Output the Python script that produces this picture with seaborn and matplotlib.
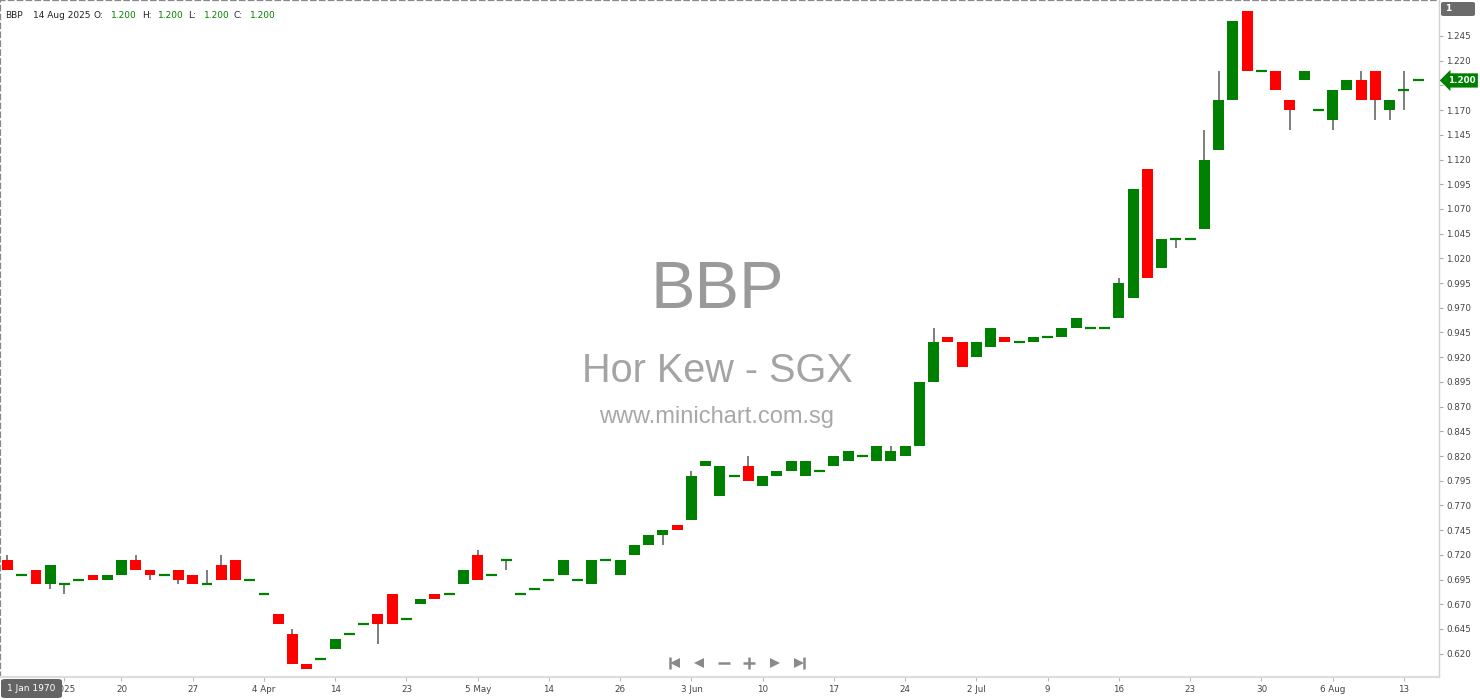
import matplotlib
matplotlib.use("Agg")
import matplotlib.pyplot as plt
from matplotlib.lines import Line2D
from matplotlib.patches import FancyBboxPatch
import numpy as np
import pandas as pd
import seaborn as sns

# daily OHLC, 10 Mar 2025 .. 14 Aug 2025 (one entry per trading day)
opens = [0.715, 0.700, 0.705, 0.690, 0.690, 0.695, 0.700, 0.695, 0.700, 0.715,
         0.705, 0.700, 0.705, 0.700, 0.690, 0.710, 0.715, 0.695, 0.680, 0.660,
         0.640, 0.610, 0.615, 0.625, 0.640, 0.650, 0.660, 0.680, 0.655, 0.670,
         0.680, 0.680, 0.690, 0.720, 0.700, 0.715, 0.680, 0.685, 0.695, 0.700,
         0.695, 0.690, 0.715, 0.700, 0.720, 0.730, 0.740, 0.750, 0.755, 0.810,
         0.780, 0.800, 0.810, 0.790, 0.800, 0.805, 0.800, 0.805, 0.810, 0.815,
         0.820, 0.815, 0.815, 0.820, 0.830, 0.895, 0.940, 0.935, 0.920, 0.930,
         0.940, 0.935, 0.935, 0.940, 0.940, 0.950, 0.950, 0.950, 0.960, 0.980,
         1.110, 1.010, 1.040, 1.040, 1.050, 1.130, 1.180, 1.270, 1.210, 1.210,
         1.180, 1.200, 1.170, 1.160, 1.190, 1.200, 1.210, 1.170, 1.190, 1.200]
highs = [0.720, 0.700, 0.705, 0.710, 0.690, 0.695, 0.700, 0.700, 0.715, 0.720,
         0.705, 0.700, 0.705, 0.700, 0.705, 0.720, 0.715, 0.695, 0.680, 0.660,
         0.645, 0.610, 0.615, 0.635, 0.640, 0.650, 0.660, 0.680, 0.655, 0.675,
         0.680, 0.680, 0.705, 0.725, 0.700, 0.715, 0.680, 0.685, 0.695, 0.715,
         0.695, 0.715, 0.715, 0.715, 0.730, 0.740, 0.745, 0.750, 0.805, 0.815,
         0.810, 0.800, 0.820, 0.800, 0.805, 0.815, 0.815, 0.805, 0.820, 0.825,
         0.820, 0.830, 0.830, 0.830, 0.895, 0.950, 0.940, 0.935, 0.935, 0.950,
         0.940, 0.935, 0.940, 0.940, 0.950, 0.960, 0.950, 0.950, 1.000, 1.090,
         1.110, 1.040, 1.040, 1.040, 1.150, 1.210, 1.260, 1.270, 1.210, 1.210,
         1.180, 1.210, 1.170, 1.190, 1.200, 1.210, 1.210, 1.180, 1.210, 1.200]
lows = [0.705, 0.700, 0.690, 0.685, 0.680, 0.695, 0.695, 0.695, 0.700, 0.705,
        0.695, 0.700, 0.690, 0.690, 0.690, 0.695, 0.695, 0.695, 0.680, 0.650,
        0.610, 0.605, 0.615, 0.625, 0.640, 0.650, 0.630, 0.650, 0.655, 0.670,
        0.675, 0.680, 0.690, 0.695, 0.700, 0.705, 0.680, 0.685, 0.695, 0.700,
        0.695, 0.690, 0.715, 0.700, 0.720, 0.730, 0.730, 0.745, 0.755, 0.810,
        0.780, 0.800, 0.795, 0.790, 0.800, 0.805, 0.800, 0.805, 0.810, 0.815,
        0.820, 0.815, 0.815, 0.820, 0.830, 0.895, 0.935, 0.910, 0.920, 0.930,
        0.935, 0.935, 0.935, 0.940, 0.940, 0.950, 0.950, 0.950, 0.960, 0.980,
        1.000, 1.010, 1.030, 1.040, 1.050, 1.130, 1.180, 1.210, 1.210, 1.190,
        1.150, 1.200, 1.170, 1.150, 1.190, 1.180, 1.160, 1.160, 1.170, 1.200]
closes = [0.705, 0.700, 0.690, 0.710, 0.690, 0.695, 0.695, 0.700, 0.715, 0.705,
          0.700, 0.700, 0.695, 0.690, 0.690, 0.695, 0.695, 0.695, 0.680, 0.650,
          0.610, 0.605, 0.615, 0.635, 0.640, 0.650, 0.650, 0.650, 0.655, 0.675,
          0.675, 0.680, 0.705, 0.695, 0.700, 0.715, 0.680, 0.685, 0.695, 0.715,
          0.695, 0.715, 0.715, 0.715, 0.730, 0.740, 0.745, 0.745, 0.800, 0.815,
          0.810, 0.800, 0.795, 0.800, 0.805, 0.815, 0.815, 0.805, 0.820, 0.825,
          0.820, 0.830, 0.825, 0.830, 0.895, 0.935, 0.935, 0.910, 0.935, 0.950,
          0.935, 0.935, 0.940, 0.940, 0.950, 0.960, 0.950, 0.950, 0.995, 1.090,
          1.000, 1.040, 1.040, 1.040, 1.120, 1.180, 1.260, 1.210, 1.210, 1.190,
          1.170, 1.210, 1.170, 1.190, 1.200, 1.180, 1.180, 1.180, 1.190, 1.200]

xtick_pos = [4, 8, 13, 18, 23, 28, 33, 38, 43, 48, 53, 58, 63, 68, 73, 78, 83, 88, 93, 98]
xtick_labels = ["2025", "20", "27", "4 Apr", "14", "23", "5 May", "14", "26", "3 Jun",
                "10", "17", "24", "2 Jul", "9", "16", "23", "30", "6 Aug", "13"]
ytick_vals = [0.620, 0.645, 0.670, 0.695, 0.720, 0.745, 0.770, 0.795, 0.820, 0.845,
              0.870, 0.895, 0.920, 0.945, 0.970, 0.995, 1.020, 1.045, 1.070, 1.095,
              1.120, 1.145, 1.170, 1.195, 1.220, 1.245]

GREEN = "#008000"
RED = "#ff0000"
W, H = 1480, 699

sns.set_style("white")
plt.rcParams["font.family"] = ["DejaVu Sans"]

fig = plt.figure(figsize=(W / 100, H / 100), dpi=100)


def fx(x):
    return x / W


def fy(y):
    return 1 - y / H


ax = fig.add_axes([0, fy(677), fx(1439), 677 / H])

df = pd.DataFrame({"o": opens, "h": highs, "l": lows, "c": closes})
df["i"] = np.arange(len(df))
flat = df.c == df.o
bw = 0.77

# wicks
ax.vlines(df.i, df.l, df.h, color="#5a5a5a", lw=1.1, zorder=2)
# bodies
body = df[~flat]
ax.bar(body.i, (body.c - body.o).abs(), bottom=body[["o", "c"]].min(axis=1),
       width=bw, color=np.where(body.c > body.o, GREEN, RED), edgecolor="none", zorder=3)
# doji
fl = df[flat]
ax.hlines(fl.c, fl.i - bw / 2, fl.i + bw / 2, color=GREEN, lw=1.6, zorder=3)

ax.set_xlim(-0.526, 100.46)
ax.set_ylim(0.5964, 1.2814)

ax.set_xticks(xtick_pos)
ax.set_xticklabels(xtick_labels)
last = closes[-1]
ax.set_yticks(ytick_vals)
# the label sitting under the last-price marker is hidden in the original
ax.set_yticklabels(["" if abs(v - last) < 0.01 else f"{v:.3f}" for v in ytick_vals])
ax.yaxis.tick_right()
ax.tick_params(axis="y", right=True, left=False, length=3, width=0.8, color="#aaaaaa",
               labelsize=6.3, labelcolor="#444444", pad=2)
ax.tick_params(axis="x", bottom=True, length=3, width=0.8, color="#bbbbbb",
               labelsize=6.3, labelcolor="#444444", pad=3)

for side in ["top", "left"]:
    ax.spines[side].set_linestyle((0, (2, 2)))
    ax.spines[side].set_color("#888888")
    ax.spines[side].set_linewidth(1.6)
ax.spines["right"].set_color("#d0d0d0")
ax.spines["right"].set_linewidth(1.0)
ax.spines["bottom"].set_color("#dddddd")
ax.spines["bottom"].set_linewidth(1.6)

# watermark
wm = ["Liberation Sans", "DejaVu Sans"]
fig.text(fx(717), fy(291), "BBP", ha="center", va="center", fontsize=48,
         color="#9a9a9a", family=wm, zorder=0)
fig.text(fx(717), fy(371), "Hor Kew - SGX", ha="center", va="center", fontsize=28.5,
         color="#a4a4a4", family=wm, zorder=0)
fig.text(fx(717), fy(417), "www.minichart.com.sg", ha="center", va="center", fontsize=17,
         color="#a8a8a8", family=wm, zorder=0)

# header
hdr = [(5, "BBP", "#222222"), (33, "14 Aug 2025", "#222222"), (94, "O:", "#222222"),
       (111, f"{opens[-1]:.3f}", GREEN), (142, "H:", "#222222"), (158, f"{highs[-1]:.3f}", GREEN),
       (188, "L:", "#222222"), (204, f"{lows[-1]:.3f}", GREEN), (234, "C:", "#222222"),
       (250, f"{closes[-1]:.3f}", GREEN)]
for x, t, c in hdr:
    fig.text(fx(x), fy(15), t, ha="left", va="center", fontsize=6.5, color=c)

# last price marker
ax.text(1.006, last, f"{last:.3f}", transform=ax.get_yaxis_transform(),
        ha="left", va="center", fontsize=6.3, color="white", fontweight="bold",
        bbox=dict(boxstyle="larrow,pad=0.3", fc=GREEN, ec="none"), zorder=5)

# top-right "1" box
fig.add_artist(FancyBboxPatch((fx(1441), fy(16)), fx(34), 14 / H,
                              boxstyle="round,pad=0,rounding_size=0.002",
                              transform=fig.transFigure, fc="#6b6b6b", ec="none"))
fig.text(fx(1445), fy(8.5), "1", ha="left", va="center", fontsize=6.5, color="white",
         fontweight="bold")

# bottom-left date box
fig.add_artist(FancyBboxPatch((fx(1), fy(698)), fx(61), 19 / H,
                              boxstyle="round,pad=0,rounding_size=0.003",
                              transform=fig.transFigure, fc="#646464", ec="none", zorder=10))
fig.text(fx(31.5), fy(688.5), "1 Jan 1970", ha="center", va="center", fontsize=6.5,
         color="white", zorder=11)

# navigation icons
nav_y = fy(663)
nav = [(670, "|"), (675, "<"), (699, "<"), (724, "_"), (749, "+"), (775, ">"), (799, ">"), (804, "|")]
for x, m in nav:
    size = 7 if m in "<>" else 8
    fig.add_artist(Line2D([fx(x)], [nav_y], marker=m, markersize=size, color="#8a8a8a",
                          markeredgewidth=0 if m in "<>" else 1.8, transform=fig.transFigure))

fig.savefig("out.png", dpi=100)
